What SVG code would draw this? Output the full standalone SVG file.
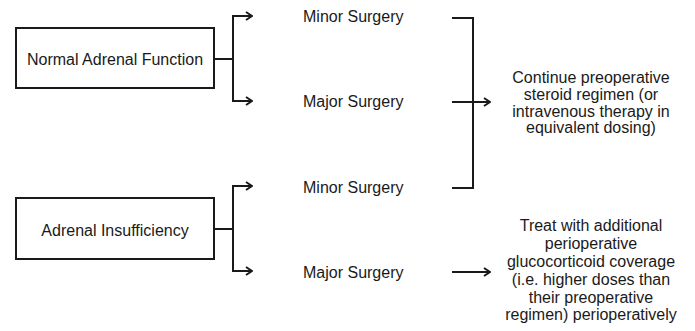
<svg xmlns="http://www.w3.org/2000/svg" width="695" height="331" viewBox="0 0 695 331">
<style>
  text { font-family: "Liberation Sans", Arial, sans-serif; font-size: 16px; fill: #1a1a1a; }
  .c { text-anchor: middle; }
  .box { fill: #ffffff; stroke: #1a1a1a; stroke-width: 2; }
  .ln { fill: none; stroke: #1a1a1a; stroke-width: 2; }
</style>
<defs>
  <marker id="ah" viewBox="0 0 10 10" refX="9" refY="5" markerWidth="10" markerHeight="10" markerUnits="userSpaceOnUse" orient="auto">
    <polyline points="3,1 9,5 3,9" fill="none" stroke="#1a1a1a" stroke-width="2"/>
  </marker>
</defs>
<rect width="695" height="331" fill="#ffffff"/>
<g id="normal">
  <rect class="box" x="16" y="28" width="198" height="60"/>
  <text class="c" x="115" y="65">Normal Adrenal Function</text>
</g>
<g id="insufficiency">
  <rect class="box" x="16" y="198" width="198" height="61"/>
  <text class="c" x="115" y="236">Adrenal Insufficiency</text>
</g>
<g id="minor1"><text x="303" y="22">Minor Surgery</text></g>
<g id="major1"><text x="303" y="107">Major Surgery</text></g>
<g id="minor2"><text x="303" y="193">Minor Surgery</text></g>
<g id="major2"><text x="303" y="278">Major Surgery</text></g>
<g id="continue">
  <text class="c" x="591" y="83">Continue preoperative</text>
  <text class="c" x="591" y="100">steroid regimen (or</text>
  <text class="c" x="591" y="116.5">intravenous therapy in</text>
  <text class="c" x="591" y="133">equivalent dosing)</text>
</g>
<g id="treat">
  <text class="c" x="591" y="231">Treat with additional</text>
  <text class="c" x="591" y="249">perioperative</text>
  <text class="c" x="591" y="267">glucocorticoid coverage</text>
  <text class="c" x="591" y="285">(i.e. higher doses than</text>
  <text class="c" x="591" y="303">their preoperative</text>
  <text class="c" x="591" y="320">regimen) perioperatively</text>
</g>
<g id="connectors">
  <line class="ln" x1="214" y1="59" x2="233" y2="59"/>
  <line class="ln" x1="233" y1="16" x2="233" y2="101"/>
  <line class="ln" x1="232" y1="16" x2="252" y2="16" marker-end="url(#ah)"/>
  <line class="ln" x1="232" y1="101" x2="252" y2="101" marker-end="url(#ah)"/>
  <line class="ln" x1="214" y1="229" x2="233" y2="229"/>
  <line class="ln" x1="233" y1="186" x2="233" y2="271"/>
  <line class="ln" x1="232" y1="186" x2="252" y2="186" marker-end="url(#ah)"/>
  <line class="ln" x1="232" y1="271" x2="252" y2="271" marker-end="url(#ah)"/>
  <polyline class="ln" points="452,18 473,18 473,188 452,188"/>
  <line class="ln" x1="452" y1="102" x2="490" y2="102" marker-end="url(#ah)"/>
  <line class="ln" x1="452" y1="272" x2="490" y2="272" marker-end="url(#ah)"/>
</g>
</svg>
